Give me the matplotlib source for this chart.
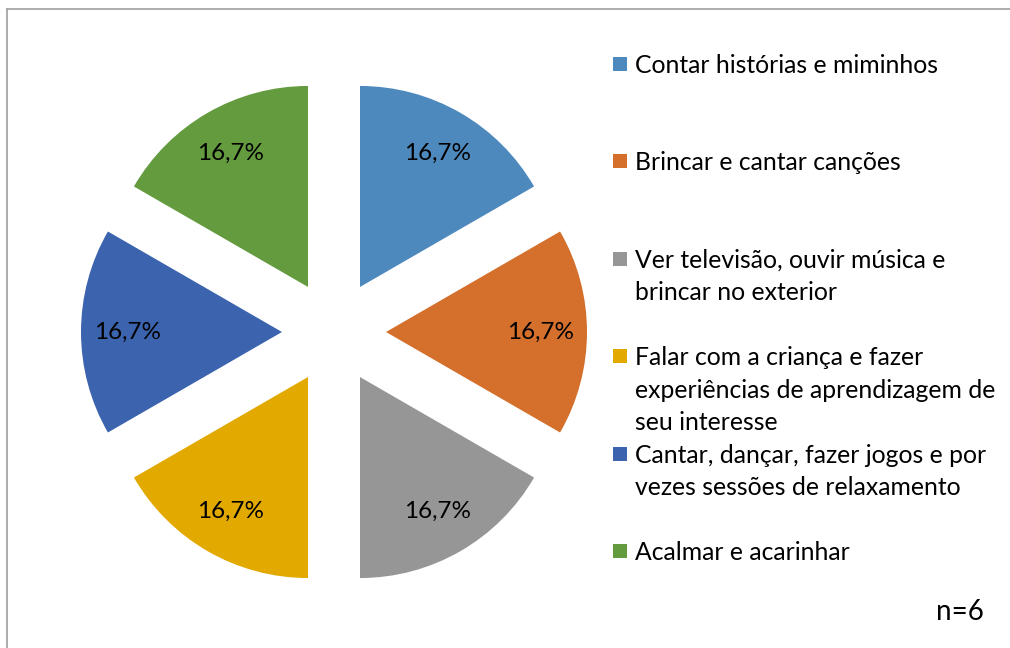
import matplotlib.pyplot as plt
from matplotlib.patches import Rectangle
from matplotlib.lines import Line2D

categories = [
    'Contar histórias e miminhos',
    'Brincar e cantar canções',
    'Ver televisão, ouvir música e\nbrincar no exterior',
    'Falar com a criança e fazer\nexperiências de aprendizagem de\nseu interesse',
    'Cantar, dançar, fazer jogos e por\nvezes sessões de relaxamento',
    'Acalmar e acarinhar',
]
counts = [1, 1, 1, 1, 1, 1]
colors = ['#4E89BD', '#D46F2C', '#969696', '#E2A900', '#3C64AE', '#639B3E']
note = 'n=6'

W, H = 1010, 648
plt.rcParams['font.family'] = ['Lato', 'DejaVu Sans']

fig = plt.figure(figsize=(W / 100, H / 100), dpi=100)
ax = fig.add_axes([0, 0, 1, 1])


def pct(p):
    return f'{p:.1f}%'.replace('.', ',')


ax.pie(counts, colors=colors, startangle=90, counterclock=False,
       center=(334, H - 332), radius=201, explode=[52] * len(counts),
       autopct=pct, pctdistance=0.77,
       textprops=dict(fontsize=17.5, color='black'),
       wedgeprops=dict(linewidth=0))

ax.set_xlim(0, W)
ax.set_ylim(0, H)
ax.set_aspect('equal')
ax.axis('off')

# legend, one slot per category, marker level with first line
for i, (lab, col) in enumerate(zip(categories, colors)):
    y = H - (64 + i * 97.4)
    ax.add_patch(Rectangle((613, y - 7), 14, 14, facecolor=col, edgecolor='none'))
    ax.text(635, y + 10, lab, fontsize=17.8, ha='left', va='top',
            linespacing=1.5)

ax.text(960, H - 612, note, fontsize=20, ha='center', va='center')

# chart border (only top and left visible in crop)
ax.add_line(Line2D([7, W + 5], [H - 9, H - 9], color='#A6A6A6', lw=1.3))
ax.add_line(Line2D([7, 7], [H - 9, -5], color='#A6A6A6', lw=1.3))

fig.savefig('out.png', dpi=100)
